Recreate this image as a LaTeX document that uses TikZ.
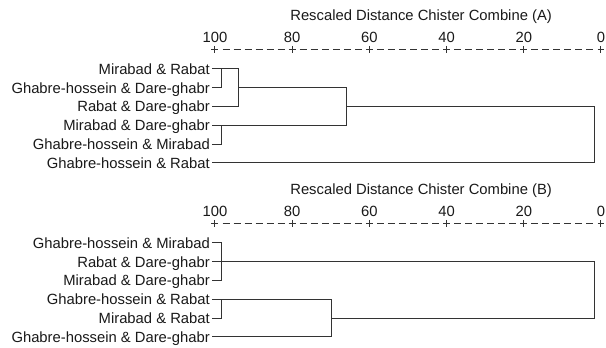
\documentclass[tikz,border=0pt]{standalone}
\usepackage{fontspec}
\setmainfont{Liberation Sans}

\begin{document}
\begin{tikzpicture}[x=-3.86pt, y=-1pt]
  \tikzset{every node/.style={inner sep=0pt, text=black!90,
             font=\fontsize{14.8}{18}\selectfont, text height=10.6pt, text depth=0pt},
           leaf/.style={anchor=east},
           tree/.style={draw=black!80, line width=1pt},
           axisline/.style={tree, dash pattern=on 7pt off 4.03pt}}
  \useasboundingbox (155.7,0) rectangle (-1.3,348);

  \foreach \p/\l in {0/A,-174/B} {
    \begin{scope}[yshift=\p pt]
      \node (title\l) at (46.6,15.5) {Rescaled Distance Chister Combine (\l)};
      \coordinate (left\l) at (100.91,49.3);
      \coordinate (right\l) at (-0.91,49.3);
      \draw[axisline] (left\l) -- (right\l);
      \foreach \v in {100,80,...,0} {
        \node (tick\l\v) at (\v,37.5) {\v};
        \draw[tree] (\v,45.8) -- (\v,52.8);
      }
      \coordinate (j1\l) at (98.2,0);
    \end{scope}
  }

  \coordinate (j2A) at (93.8,0);
  \coordinate (j3A) at (65.8,0);
  \coordinate (j4A) at (1.55,0);
  \node[leaf] (a1) at (101.3,69)    {Mirabad \& Rabat};
  \node[leaf] (a2) at (101.3,87.8)  {Ghabre-hossein \& Dare-ghabr};
  \node[leaf] (a3) at (101.3,106.6) {Rabat \& Dare-ghabr};
  \node[leaf] (a4) at (101.3,125.4) {Mirabad \& Dare-ghabr};
  \node[leaf] (a5) at (101.3,144.2) {Ghabre-hossein \& Mirabad};
  \node[leaf] (a6) at (101.3,163)   {Ghabre-hossein \& Rabat};
  \draw[tree] ([xshift=2pt]a1.east) -- (a1 -| j2A) -- (a3 -| j2A) -- ([xshift=2pt]a3.east);
  \draw[tree] ([xshift=2pt]a2.east) -- (a2 -| j1A) -- (a1 -| j1A);
  \draw[tree] (a2 -| j2A) -- (a2 -| j3A) -- (a4 -| j3A) -- ([xshift=2pt]a4.east);
  \draw[tree] ([xshift=2pt]a5.east) -- (a5 -| j1A) -- (a4 -| j1A);
  \draw[tree] (a3 -| j3A) -- (a3 -| j4A) -- (a6 -| j4A) -- ([xshift=2pt]a6.east);

  \begin{scope}[yshift=-174pt]
    \coordinate (j2B) at (69.9,0);
    \coordinate (j3B) at (1.55,0);
    \node[leaf] (b1) at (101.3,69)    {Ghabre-hossein \& Mirabad};
    \node[leaf] (b2) at (101.3,87.8)  {Rabat \& Dare-ghabr};
    \node[leaf] (b3) at (101.3,106.6) {Mirabad \& Dare-ghabr};
    \node[leaf] (b4) at (101.3,125.4) {Ghabre-hossein \& Rabat};
    \node[leaf] (b5) at (101.3,144.2) {Mirabad \& Rabat};
    \node[leaf] (b6) at (101.3,163)   {Ghabre-hossein \& Dare-ghabr};
    \draw[tree] ([xshift=2pt]b1.east) -- (b1 -| j1B) -- (b3 -| j1B) -- ([xshift=2pt]b3.east);
    \draw[tree] ([xshift=2pt]b2.east) -- (b2 -| j3B) -- (b5 -| j3B) -- (b5 -| j2B);
    \draw[tree] ([xshift=2pt]b4.east) -- (b4 -| j2B) -- (b6 -| j2B) -- ([xshift=2pt]b6.east);
    \draw[tree] ([xshift=2pt]b5.east) -- (b5 -| j1B) -- (b4 -| j1B);
  \end{scope}
\end{tikzpicture}
\end{document}
